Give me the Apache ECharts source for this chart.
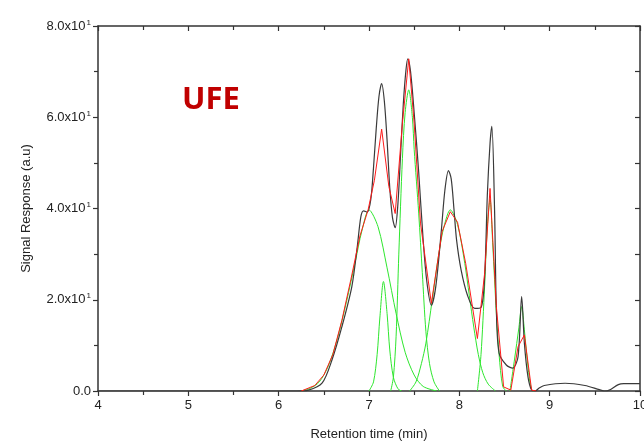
<!DOCTYPE html>
<html>
<head>
<meta charset="utf-8">
<script src="https://cdn.jsdelivr.net/npm/echarts@6/dist/echarts.min.js"></script>
<style>
  html, body { margin: 0; padding: 0; background: #fff; }
  #chart { width: 644px; height: 441px; }
</style>
</head>
<body>
<div id="chart"></div>
<script>
// x ticks and y tick text (mantissa + exponent shown as superscript)
var xTicks = [4, 5, 6, 7, 8, 9, 10];
var yTicks = [0, 20, 40, 60, 80];
var yTickText = ['0.0', '2.0x10', '4.0x10', '6.0x10', '8.0x10'];
var yTickExp = ['', '1', '1', '1', '1'];

// measured chromatogram (black)
var measured = [
  [4, 0], [6.2, 0], [6.33, 0.2], [6.48, 1.7], [6.59, 6.8], [6.7, 14.1], [6.81, 22.9],
  [6.87, 31.6], [6.91, 38.2], [6.94, 39.5], [6.98, 39.2], [7.02, 42], [7.05, 49],
  [7.08, 57.5], [7.11, 64.5], [7.14, 67.4], [7.17, 63.5], [7.2, 55], [7.23, 44.5],
  [7.26, 38], [7.29, 35.8], [7.32, 41], [7.35, 52], [7.38, 63], [7.41, 70.5],
  [7.43, 72.8], [7.46, 70], [7.5, 61], [7.55, 48], [7.6, 33], [7.64, 24],
  [7.69, 18.8], [7.74, 23], [7.8, 35], [7.84, 44], [7.88, 48.3], [7.91, 46.5],
  [7.94, 40], [7.97, 33], [8.02, 26.5], [8.09, 21], [8.17, 18.1], [8.24, 18.3],
  [8.28, 25], [8.31, 43], [8.34, 54.3], [8.36, 58], [8.39, 39.7], [8.41, 17.8],
  [8.44, 8.3], [8.52, 5.7], [8.59, 5], [8.65, 7.5], [8.69, 20.7], [8.72, 10.5],
  [8.76, 3.1], [8.8, 0.2], [8.84, 0], [8.88, 0.6], [8.94, 1.2], [9.17, 1.7],
  [9.39, 1.2], [9.55, 0.3], [9.61, 0], [9.66, 0.2], [9.76, 1.4], [9.82, 1.6], [10, 1.6]
];

// cumulative fit (red)
var fitSum = [
  [6.25, 0], [6.4, 1.2], [6.5, 3.5], [6.6, 8], [6.7, 15.5], [6.8, 24.5], [6.9, 34],
  [6.99, 39.7], [7.06, 46.2], [7.14, 57.4], [7.22, 44.8], [7.29, 38.9], [7.37, 58.7],
  [7.44, 72.8], [7.5, 58.7], [7.57, 36.8], [7.69, 19.2], [7.81, 35], [7.9, 39.3],
  [7.98, 37], [8.07, 28], [8.2, 11.5], [8.28, 25.8], [8.34, 44.4], [8.41, 18.5],
  [8.49, 0.9], [8.57, 0.2], [8.65, 9.7], [8.72, 12.3], [8.8, 0.2], [8.85, 0]
];

// individual fitted peaks (green)
var peak1 = [[6.25, 0], [6.35, 0.6], [6.45, 2], [6.55, 5.5], [6.65, 11.5], [6.75, 19.5], [6.85, 28.5],
  [6.92, 35], [7.0, 39.7], [7.1, 36], [7.2, 27], [7.3, 17], [7.4, 8.5], [7.5, 3.5], [7.6, 1], [7.75, 0]];
var peak2 = [[7.0, 0], [7.05, 2], [7.09, 8], [7.12, 16], [7.16, 24], [7.2, 17], [7.23, 9],
  [7.27, 3], [7.32, 0.5], [7.36, 0]];
var peak3 = [[7.24, 0], [7.27, 3], [7.3, 12], [7.33, 30], [7.37, 51], [7.4, 61], [7.44, 66],
  [7.48, 60], [7.5, 53], [7.55, 39], [7.59, 26], [7.63, 13], [7.67, 6], [7.72, 2], [7.78, 0]];
var peak4 = [[7.45, 0], [7.52, 2], [7.58, 6], [7.63, 10.5], [7.7, 20], [7.78, 31], [7.83, 36],
  [7.9, 39.7], [7.98, 36.5], [8.06, 28], [8.11, 21], [8.16, 14], [8.21, 8], [8.26, 4], [8.32, 1.5], [8.4, 0]];
var peak5 = [[8.2, 0], [8.24, 8], [8.28, 23], [8.31, 36], [8.34, 42], [8.37, 32], [8.41, 17],
  [8.44, 8], [8.48, 1], [8.52, 0]];
var peak6 = [[8.56, 0], [8.61, 6.8], [8.66, 14], [8.69, 18.5], [8.72, 13.4], [8.76, 5.3], [8.8, 0.2], [8.83, 0]];

var chart = echarts.init(document.getElementById('chart'));
var axisColor = '#333';
var font = '"Liberation Sans", Arial, sans-serif';

function greenSeries(data) {
  return {
    type: 'line', data: data,
    smooth: 0.3, symbol: 'none', silent: true,
    lineStyle: { color: '#2ee62e', width: 1 }
  };
}

var option = {
  animation: false,
  backgroundColor: '#fff',
  grid: { left: 98, right: 4, top: 26, bottom: 50, outerBoundsMode: 'none', containLabel: false },
  graphic: [{
    type: 'text', x: 182, y: 100,
    style: { text: 'UFE', font: 'bold 31px "Open Sans"', fill: '#c00000', verticalAlign: 'middle' }
  }],
  xAxis: [{
    type: 'value', position: 'bottom', min: xTicks[0], max: xTicks[xTicks.length - 1], interval: 1,
    name: 'Retention time (min)', nameLocation: 'middle', nameGap: 37,
    nameTextStyle: { fontFamily: font, fontSize: 13, color: '#222' },
    axisLine: { lineStyle: { color: axisColor, width: 1.5 } },
    axisTick: { show: true, inside: false, length: 5, lineStyle: { color: axisColor, width: 1.2 } },
    minorTick: { show: true, splitNumber: 2, length: 4, lineStyle: { color: axisColor, width: 1.2 } },
    axisLabel: { fontFamily: font, fontSize: 13, color: '#222', margin: 8 },
    splitLine: { show: false }
  }, {
    type: 'value', position: 'top', min: xTicks[0], max: xTicks[xTicks.length - 1], interval: 1,
    axisLine: { onZero: false, lineStyle: { color: axisColor, width: 1.5 } },
    axisTick: { show: true, inside: true, length: 5, lineStyle: { color: axisColor, width: 1.2 } },
    minorTick: { show: true, splitNumber: 2, length: 4, lineStyle: { color: axisColor, width: 1.2 } },
    axisLabel: { show: false },
    splitLine: { show: false }
  }],
  yAxis: [{
    type: 'value', position: 'left', min: yTicks[0], max: yTicks[yTicks.length - 1], interval: 20,
    name: 'Signal Response (a.u)', nameLocation: 'middle', nameGap: 65,
    nameTextStyle: { fontFamily: font, fontSize: 13, color: '#222' },
    axisLine: { show: true, lineStyle: { color: axisColor, width: 1.5 } },
    axisTick: { show: true, inside: false, length: 5, lineStyle: { color: axisColor, width: 1.2 } },
    minorTick: { show: true, splitNumber: 2, length: 4, lineStyle: { color: axisColor, width: 1.2 } },
    axisLabel: {
      margin: 7,
      formatter: function (v) {
        var i = yTicks.indexOf(v);
        if (i < 0) return '';
        return '{m|' + yTickText[i] + '}' + (yTickExp[i] ? '{s|' + yTickExp[i] + '}' : '');
      },
      rich: {
        m: { fontFamily: font, fontSize: 13, color: '#222' },
        s: { fontFamily: font, fontSize: 8, color: '#222', verticalAlign: 'top', padding: [0, 0, 7, 1] }
      }
    },
    splitLine: { show: false }
  }, {
    type: 'value', position: 'right', min: yTicks[0], max: yTicks[yTicks.length - 1], interval: 20,
    axisLine: { show: true, lineStyle: { color: axisColor, width: 1.5 } },
    axisTick: { show: true, inside: true, length: 5, lineStyle: { color: axisColor, width: 1.2 } },
    minorTick: { show: true, splitNumber: 2, length: 5, lineStyle: { color: axisColor, width: 1.2 } },
    axisLabel: { show: false },
    splitLine: { show: false }
  }],
  series: [
    greenSeries(peak1), greenSeries(peak2), greenSeries(peak3),
    greenSeries(peak4), greenSeries(peak5), greenSeries(peak6),
    {
      type: 'line', data: measured, smooth: 0.3, symbol: 'none', silent: true,
      lineStyle: { color: '#3a3a3a', width: 1.2 }
    },
    {
      type: 'line', data: fitSum, smooth: false, symbol: 'none', silent: true,
      lineStyle: { color: '#ff1a1a', width: 1 }
    }
  ]
};

chart.setOption(option);
</script>
</body>
</html>
